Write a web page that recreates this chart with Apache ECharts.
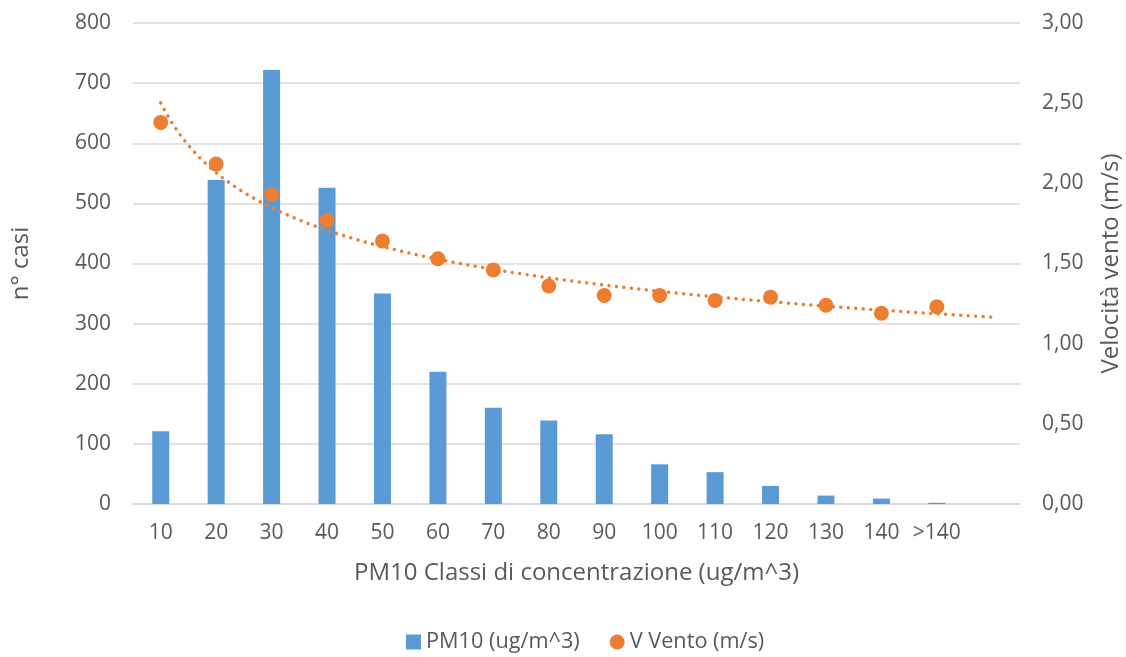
<!DOCTYPE html>
<html>
<head>
<meta charset="utf-8">
<script src="https://cdn.jsdelivr.net/npm/echarts@6/dist/echarts.min.js"></script>
<style>html,body{margin:0;padding:0;background:#fff;}#c{width:1126px;height:657px;}</style>
</head>
<body>
<div id="c"></div>
<script>
const categories = ['10','20','30','40','50','60','70','80','90','100','110','120','130','140','>140'];
const pm10Counts = [121, 539, 722, 526, 350, 220, 160, 139, 116, 66, 53, 30, 14, 9, 2];
const windSpeed = [2.38, 2.12, 1.93, 1.77, 1.64, 1.53, 1.46, 1.36, 1.30, 1.30, 1.27, 1.29, 1.24, 1.19, 1.23];
const leftTicks = {min: 0, max: 800, interval: 100};
const rightTicks = {min: 0, max: 3, interval: 0.5};
const forwardPeriods = 1;

// Power trendline (least squares on ln x, ln y), as in the spreadsheet
const n = windSpeed.length;
let sx = 0, sy = 0;
for (let i = 0; i < n; i++) { sx += Math.log(i + 1); sy += Math.log(windSpeed[i]); }
const mx = sx / n, my = sy / n;
let sxy = 0, sxx = 0;
for (let i = 0; i < n; i++) {
  const dx = Math.log(i + 1) - mx;
  sxy += dx * (Math.log(windSpeed[i]) - my);
  sxx += dx * dx;
}
const b = sxy / sxx, a = Math.exp(my - b * mx);
const trend = [];
for (let k = 0; k <= (n - 1 + forwardPeriods) * 20; k++) {
  const x = 1 + k / 20;
  trend.push([x - 1, a * Math.pow(x, b)]);
}

const axisCats = categories.concat(Array(forwardPeriods).fill(''));
const FONT = 'Open Sans';
const TXT = '#595959';
const ORANGE = '#ED7D31';
const BLUE = '#5B9BD5';
const chart = echarts.init(document.getElementById('c'));
chart.setOption({
  animation: false,
  textStyle: {fontFamily: FONT},
  grid: {left: 133, right: 106, top: 23, bottom: 153, containLabel: false, outerBoundsMode: 'none'},
  legend: {
    top: 626, left: 401, itemGap: 30, itemWidth: 15, itemHeight: 15,
    textStyle: {fontSize: 21.7, color: TXT, fontFamily: FONT},
    data: [
      {name: 'PM10 (ug/m^3)', icon: 'rect', itemStyle: {color: BLUE}},
      {name: 'V Vento (m/s)', icon: 'circle', itemStyle: {color: ORANGE}}
    ]
  },
  xAxis: [{
    type: 'category', data: axisCats, boundaryGap: true,
    name: 'PM10 Classi di concentrazione (ug/m^3)', nameLocation: 'middle', nameGap: 57,
    nameTextStyle: {fontSize: 24, color: TXT},
    axisLine: {lineStyle: {color: '#D9D9D9', width: 1.5}},
    axisTick: {show: false},
    axisLabel: {color: TXT, fontSize: 21, margin: 19, interval: 0}
  }, {
    type: 'value', min: -0.5, max: axisCats.length - 0.5, show: false
  }],
  yAxis: [{
    type: 'value', min: leftTicks.min, max: leftTicks.max, interval: leftTicks.interval,
    name: 'n° casi', nameLocation: 'middle', nameGap: 100,
    nameTextStyle: {fontSize: 24, color: TXT},
    axisLine: {show: false}, axisTick: {show: false},
    axisLabel: {color: TXT, fontSize: 21, margin: 22},
    splitLine: {lineStyle: {color: '#D9D9D9', width: 1.5}}
  }, {
    type: 'value', min: rightTicks.min, max: rightTicks.max, interval: rightTicks.interval,
    name: 'Velocità vento (m/s)', nameLocation: 'middle', nameGap: 79,
    nameTextStyle: {fontSize: 24, color: TXT},
    axisLine: {show: false}, axisTick: {show: false},
    axisLabel: {color: TXT, fontSize: 21, margin: 22, formatter: v => v.toFixed(2).replace('.', ',')},
    splitLine: {show: false}
  }],
  series: [{
    name: 'PM10 (ug/m^3)', type: 'bar', xAxisIndex: 0, yAxisIndex: 0,
    data: pm10Counts, barWidth: 17,
    itemStyle: {color: BLUE}
  }, {
    name: 'Tendenza', type: 'line', xAxisIndex: 1, yAxisIndex: 1,
    data: trend, showSymbol: false, symbol: 'none', smooth: false, silent: true,
    lineStyle: {color: ORANGE, width: 3.5, type: [0.01, 7.5], cap: 'round'},
    itemStyle: {color: ORANGE}, z: 3
  }, {
    name: 'V Vento (m/s)', type: 'scatter', xAxisIndex: 0, yAxisIndex: 1,
    data: windSpeed, symbol: 'circle', symbolSize: 15,
    itemStyle: {color: ORANGE, opacity: 1}, z: 4
  }]
});
</script>
</body>
</html>
